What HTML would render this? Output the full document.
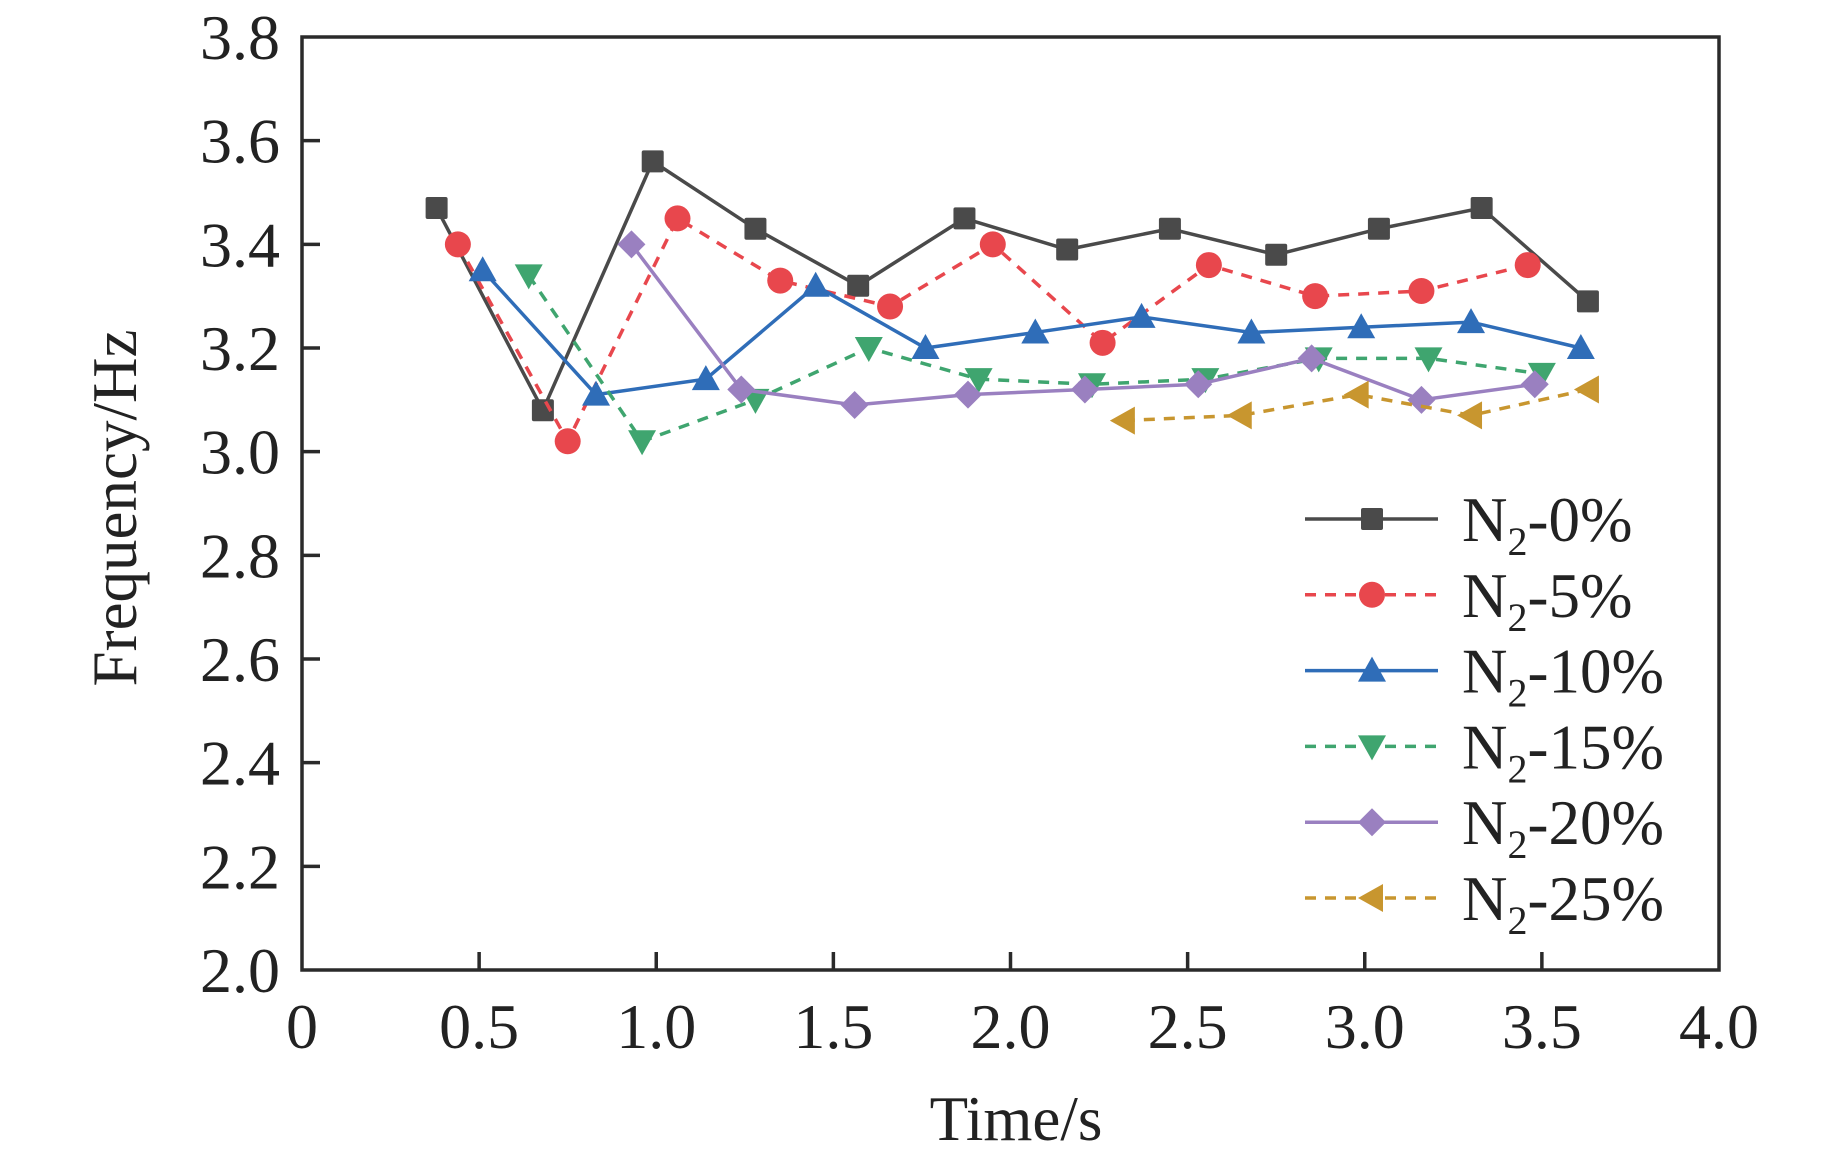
<!DOCTYPE html>
<html><head><meta charset="utf-8"><style>
html,body{margin:0;padding:0;background:#fff;}
svg{display:block;font-family:"Liberation Serif",serif;}
</style></head><body>
<svg id="chart" width="1843" height="1157" viewBox="0 0 1843 1157" xmlns="http://www.w3.org/2000/svg">
<g id="marks"></g>
</svg>
<script>
const xTicks=[0,0.5,1.0,1.5,2.0,2.5,3.0,3.5,4.0];
const xTickLabels=["0","0.5","1.0","1.5","2.0","2.5","3.0","3.5","4.0"];
const yTicks=[2.0,2.2,2.4,2.6,2.8,3.0,3.2,3.4,3.6,3.8];
const yTickLabels=["2.0","2.2","2.4","2.6","2.8","3.0","3.2","3.4","3.6","3.8"];
const seriesNames=["0%","5%","10%","15%","20%","25%"];
const x0=[0.38,0.68,0.99,1.28,1.57,1.87,2.16,2.45,2.75,3.04,3.33,3.63];
const y0=[3.47,3.08,3.56,3.43,3.32,3.45,3.39,3.43,3.38,3.43,3.47,3.29];
const x5=[0.44,0.75,1.06,1.35,1.66,1.95,2.26,2.56,2.86,3.16,3.46];
const y5=[3.40,3.02,3.45,3.33,3.28,3.40,3.21,3.36,3.30,3.31,3.36];
const x10=[0.51,0.83,1.14,1.45,1.76,2.07,2.37,2.68,2.99,3.30,3.61];
const y10=[3.35,3.11,3.14,3.32,3.20,3.23,3.26,3.23,3.24,3.25,3.20];
const x15=[0.64,0.96,1.28,1.60,1.91,2.23,2.55,2.87,3.18,3.50];
const y15=[3.34,3.02,3.10,3.20,3.14,3.13,3.14,3.18,3.18,3.15];
const x20=[0.93,1.24,1.56,1.88,2.21,2.53,2.85,3.16,3.48];
const y20=[3.40,3.12,3.09,3.11,3.12,3.13,3.18,3.10,3.13];
const x25=[2.32,2.65,2.98,3.30,3.63];
const y25=[3.06,3.07,3.11,3.07,3.12];

const L=302,R=1719,T=37,B=970;
const xs=v=>L+(v-0)/(4-0)*(R-L);
const ys=v=>B-(v-2)/(3.8-2)*(B-T);
const NS="http://www.w3.org/2000/svg";
const svg=document.getElementById('chart');
function mk(tag,attrs,parent){const e=document.createElementNS(NS,tag);for(const k in attrs)e.setAttribute(k,attrs[k]);(parent||svg).appendChild(e);return e;}

const series=[
 {xv:x0,yv:y0,c:"#4a4a4a",dash:null,m:"square"},
 {xv:x5,yv:y5,c:"#e8474d",dash:"11 9",m:"circle"},
 {xv:x10,yv:y10,c:"#2f6db8",dash:null,m:"tri-up"},
 {xv:x15,yv:y15,c:"#3fa56f",dash:"11 9",m:"tri-down"},
 {xv:x20,yv:y20,c:"#9a80c0",dash:null,m:"diamond"},
 {xv:x25,yv:y25,c:"#c8962f",dash:"11 9",m:"tri-left"}
];
function marker(type,cx,cy,c,g){
 let e;
 if(type==="square") e=mk('rect',{x:cx-11,y:cy-11,width:22,height:22,rx:2,fill:c},g);
 else if(type==="circle") e=mk('circle',{cx:cx,cy:cy,r:13,fill:c},g);
 else if(type==="tri-up") e=mk('polygon',{points:`${cx},${cy-14} ${cx+14},${cy+11} ${cx-14},${cy+11}`,fill:c},g);
 else if(type==="tri-down") e=mk('polygon',{points:`${cx},${cy+14} ${cx+14},${cy-11} ${cx-14},${cy-11}`,fill:c},g);
 else if(type==="diamond") e=mk('polygon',{points:`${cx},${cy-14} ${cx+14},${cy} ${cx},${cy+14} ${cx-14},${cy}`,fill:c},g);
 else e=mk('polygon',{points:`${cx-14},${cy} ${cx+11},${cy-14} ${cx+11},${cy+14}`,fill:c},g);
 return e;
}
const marks=document.getElementById('marks');
series.forEach((s,i)=>{
 const g=mk('g',{},marks);
 
 
 const pts=s.xv.map((v,j)=>xs(v)+','+ys(s.yv[j])).join(' ');
 const pl=mk('polyline',{points:pts,fill:'none',stroke:s.c,'stroke-width':3.5},g);
 if(s.dash) pl.setAttribute('stroke-dasharray',s.dash);
 
 
 s.xv.forEach((v,j)=>{
  const m=marker(s.m,xs(v),ys(s.yv[j]),s.c,g);
  
  
 });
 const ly=519+i*75.8;
 const lg=mk('g',{},svg);
 
 
 const ll=mk('line',{x1:1305,x2:1438,y1:ly,y2:ly,stroke:s.c,'stroke-width':3.5},lg);
 if(s.dash) ll.setAttribute('stroke-dasharray',s.dash);
 marker(s.m,1372,ly,s.c,lg);
 const t=mk('text',{x:1462,y:ly+22,'font-size':63,fill:'#222'},lg);
 t.innerHTML='N<tspan font-size="40" dy="14">2</tspan><tspan dy="-14">-'+seriesNames[i]+'</tspan>';
});
const fr=mk('rect',{x:L,y:T,width:R-L,height:B-T,fill:'none',stroke:'#2a2a2a','stroke-width':3.5});


xTicks.forEach((v,i)=>{
 const x=xs(v);
 if(i>0&&i<xTicks.length-1){const tk=mk('line',{x1:x,x2:x,y1:B,y2:B-18,stroke:'#2a2a2a','stroke-width':3.5});
 }
 const t=mk('text',{x:x,y:1048,'font-size':64,'text-anchor':'middle',fill:'#222'});
 t.textContent=xTickLabels[i];
 
 
});
yTicks.forEach((v,i)=>{
 const y=ys(v);
 if(i>0&&i<yTicks.length-1){const tk=mk('line',{x1:L,x2:L+18,y1:y,y2:y,stroke:'#2a2a2a','stroke-width':3.5});
 }
 const t=mk('text',{x:280,y:y+22,'font-size':64,'text-anchor':'end',fill:'#222'});
 t.textContent=yTickLabels[i];
 
 
});
const xt=mk('text',{x:1016,y:1140,'font-size':63,'text-anchor':'middle',fill:'#222'});
xt.textContent='Time/s';


const yt=mk('text',{x:0,y:0,'font-size':63,'text-anchor':'middle',fill:'#222',transform:'translate(136,508) rotate(-90)'});
yt.textContent='Frequency/Hz';


</script>
</body></html>
